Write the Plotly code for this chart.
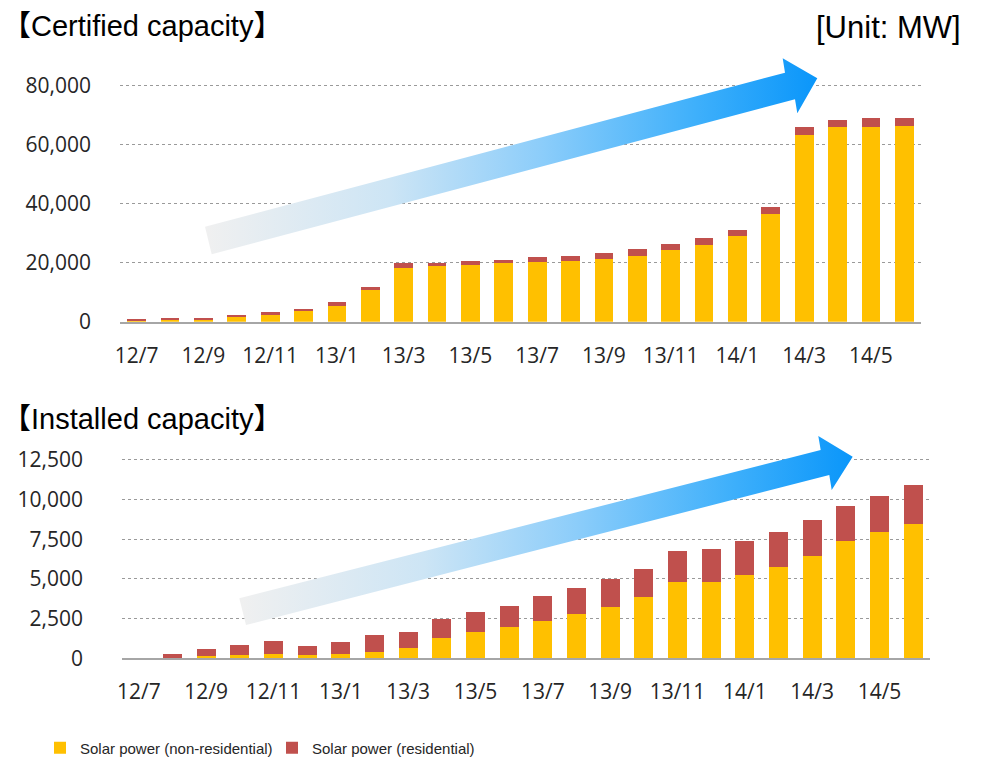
import plotly.graph_objects as go

# Monthly categories, July 2012 to June 2014
months = ["12/7", "12/8", "12/9", "12/10", "12/11", "12/12",
          "13/1", "13/2", "13/3", "13/4", "13/5", "13/6",
          "13/7", "13/8", "13/9", "13/10", "13/11", "13/12",
          "14/1", "14/2", "14/3", "14/4", "14/5", "14/6"]
tick_months = months[::2]

# Certified capacity (MW)
certified_nonres = [300, 700, 750, 1500, 2400, 3600, 5300, 10600, 18300, 18800, 19300, 19900,
                    20200, 20600, 21100, 22300, 24100, 25800, 28900, 36300, 63200, 65800, 65800, 66200]
certified_res = [300, 300, 300, 400, 800, 800, 1400, 1200, 1400, 1200, 1300, 1100,
                 1700, 1700, 2000, 2200, 2200, 2600, 2100, 2500, 2600, 2400, 3000, 2600]

# Installed capacity (MW)
installed_nonres = [0, 20, 130, 210, 290, 210, 290, 400, 650, 1280, 1640, 2000,
                    2350, 2800, 3220, 3850, 4800, 4820, 5280, 5730, 6420, 7410, 7960, 8460]
installed_res = [0, 270, 440, 630, 830, 550, 740, 1050, 990, 1180, 1260, 1320,
                 1600, 1660, 1770, 1770, 1960, 2040, 2110, 2210, 2320, 2190, 2270, 2490]

series_names = ["Solar power (non-residential)", "Solar power (residential)"]
series_colors = ["#FFC000", "#C0504D"]

# Decorative trend arrows (page pixel space)
arrow_top = [(205, 226.7), (785, 72.7), (782.7, 58.3), (817.3, 78.3),
             (797.3, 113.3), (795, 99.3), (211.7, 254.3), (205, 226.7)]
arrow_bottom = [(239.3, 598.3), (820.7, 450), (818.3, 436), (852.7, 456.7),
                (831.7, 490), (829.3, 475), (246, 625), (239.3, 598.3)]
arrow_scale = [[0, "#f0f0f0"], [0.3, "#cde5f5"], [0.55, "#8ccdfa"],
               [0.8, "#3fb0fb"], [1, "#0a96fa"]]

W, H = 982, 765
tick_font = dict(family="Open Sans, Noto Sans, sans-serif", size=21, color="#262626")
title_font = dict(family="Liberation Sans, Arial, Noto Sans CJK SC, sans-serif", size=29, color="#000000")

# Pixel geometry of the two plot areas
top_x0, top_x1, top_y0, top_y80k = 120, 921, 321.7, 85.3
bot_x0, bot_x1, bot_y0, bot_y125 = 122, 930, 658.3, 460.0
top_max, bot_max = 81000, 12700
top_ytop = top_y0 - (top_y0 - top_y80k) * top_max / 80000
bot_ytop = bot_y0 - (bot_y0 - bot_y125) * bot_max / 12500

fig = go.Figure()

for vals, name, color in [
    (certified_nonres, series_names[0], series_colors[0]),
    (certified_res, series_names[1], series_colors[1]),
]:
    fig.add_trace(go.Bar(x=months, y=vals, name=name, marker_color=color,
                         marker_line_width=0, legendgroup=name, showlegend=True,
                         xaxis="x", yaxis="y"))

for vals, name, color in [
    (installed_nonres, series_names[0], series_colors[0]),
    (installed_res, series_names[1], series_colors[1]),
]:
    fig.add_trace(go.Bar(x=months, y=vals, name=name, marker_color=color,
                         marker_line_width=0, legendgroup=name, showlegend=False,
                         xaxis="x2", yaxis="y2"))

for pts in (arrow_top, arrow_bottom):
    fig.add_trace(go.Scatter(
        x=[p[0] for p in pts], y=[p[1] for p in pts],
        mode="lines", fill="toself", line=dict(width=0),
        fillgradient=dict(type="horizontal", colorscale=arrow_scale),
        hoverinfo="skip", showlegend=False, xaxis="x3", yaxis="y3"))

grid = dict(showgrid=True, gridcolor="#9a9a9a", griddash="dot", gridwidth=1.2,
            zeroline=False, tickfont=tick_font, ticks="", automargin=False)
xcommon = dict(type="category", showgrid=False, showline=True, linecolor="#a6a6a6",
               linewidth=1.5, tickfont=tick_font, ticks="", tickmode="array",
               tickvals=tick_months, ticktext=tick_months, ticklabelstandoff=14,
               automargin=False)

fig.update_layout(
    width=W, height=H,
    margin=dict(l=0, r=0, t=0, b=0, autoexpand=False),
    paper_bgcolor="white", plot_bgcolor="rgba(0,0,0,0)",
    barmode="stack", bargap=0.44,
    xaxis=dict(domain=[top_x0 / W, top_x1 / W], anchor="y", **xcommon),
    yaxis=dict(domain=[1 - top_y0 / H, 1 - top_ytop / H], anchor="x", range=[0, top_max],
               tickvals=[0, 20000, 40000, 60000, 80000], tickformat=",",
               ticklabelstandoff=28, **grid),
    xaxis2=dict(domain=[bot_x0 / W, bot_x1 / W], anchor="y2", **xcommon),
    yaxis2=dict(domain=[1 - bot_y0 / H, 1 - bot_ytop / H], anchor="x2", range=[0, bot_max],
                tickvals=[0, 2500, 5000, 7500, 10000, 12500], tickformat=",",
                ticklabelstandoff=38, **grid),
    xaxis3=dict(domain=[0, 1], range=[0, W], visible=False, fixedrange=True, automargin=False),
    yaxis3=dict(domain=[0, 1], range=[H, 0], visible=False, fixedrange=True, anchor="x3",
                automargin=False),
    legend=dict(orientation="h", x=40 / W, y=1 - 748 / H, xanchor="left", yanchor="middle",
                font=dict(family="Liberation Sans, Arial, sans-serif", size=15, color="#262626"),
                entrywidth=187, entrywidthmode="pixels", traceorder="normal",
                bgcolor="rgba(0,0,0,0)", itemclick=False),
    annotations=[
        dict(text="【Certified capacity】", xref="paper", yref="paper", x=0, y=1 - 26 / H,
             xanchor="left", yanchor="middle", showarrow=False, font=title_font),
        dict(text="[Unit: MW]", xref="paper", yref="paper", x=963 / W, y=1 - 28 / H,
             xanchor="right", yanchor="middle", showarrow=False,
             font=dict(title_font, size=31)),
        dict(text="【Installed capacity】", xref="paper", yref="paper", x=0, y=1 - 419 / H,
             xanchor="left", yanchor="middle", showarrow=False, font=title_font),
    ],
)

fig.write_html("out.html")
